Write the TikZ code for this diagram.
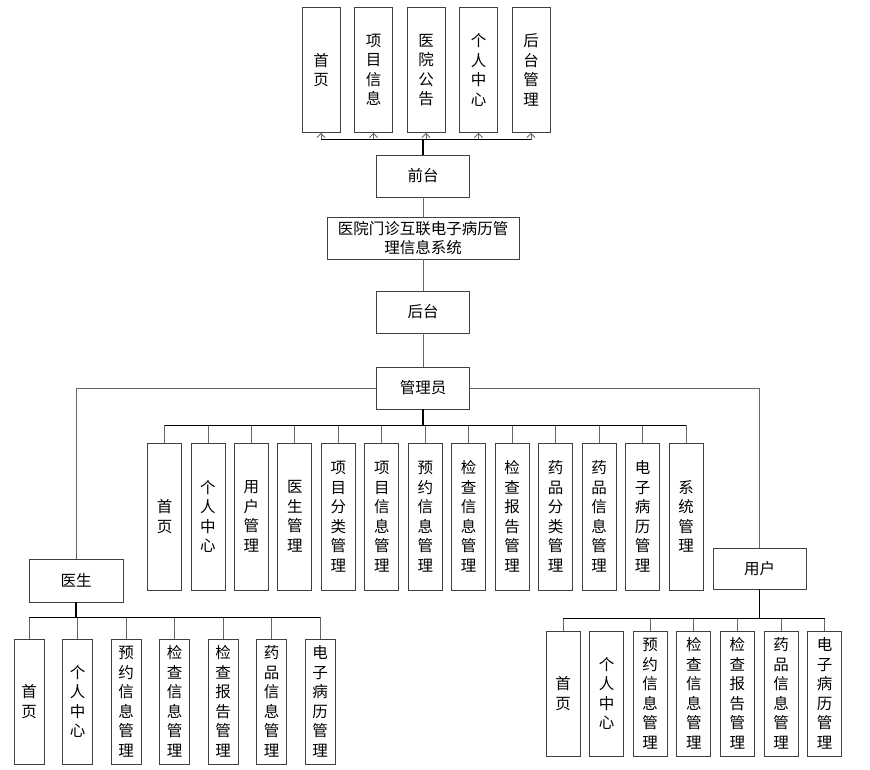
\documentclass[tikz,border=0pt]{standalone}
\usepackage{fontspec}
\setmainfont{Noto Sans CJK SC}
\usetikzlibrary{arrows.meta}

\begin{document}
\begin{tikzpicture}[x=1pt,y=-1pt,
			every node/.style={draw=black!75,line width=0.9pt,inner sep=1pt,align=center,
				font=\fontsize{15.5}{19.5}\selectfont},
			box/.style={minimum width=93pt,minimum height=42pt},
			col/.style={minimum width=34pt,minimum height=125pt},
			link/.style={draw=black!60,line width=0.8pt},
			bus/.style={draw=black,line width=1.1pt},
			trunk/.style={draw=black,line width=1.8pt},
			up/.style={link,-{Straight Barb[length=4pt,width=8pt]}}]
	\useasboundingbox (0,0) rectangle (870,770);
	% main column
	\node[box] (front) at (423,176) {前台};
	\node[box,minimum width=192pt] (sys) at (423,238) {医院门诊互联电子病历管\\理信息系统};
	\node[box] (back) at (423,312) {后台};
	\node[box] (admin) at (423,388) {管理员};
	\node[box,minimum width=94pt,minimum height=43pt] (doc) at (76,580.5) {医生};
	\node[box,minimum height=41pt] (user) at (759.5,568.5) {用户};
	% front
	\foreach \t [count=\i] in {{首\\页},{项\\目\\信\\息},{医\\院\\公\\告},{个\\人\\中\\心},{后\\台\\管\\理}}
		\node[col,minimum width=38pt] (f\i) at ({321+52.5*(\i-1)},70) {\t};
	% admin
	\foreach \t [count=\i] in {{首\\页},{个\\人\\中\\心},{用\\户\\管\\理},{医\\生\\管\\理},
			{项\\目\\分\\类\\管\\理},{项\\目\\信\\息\\管\\理},{预\\约\\信\\息\\管\\理},
			{检\\查\\信\\息\\管\\理},{检\\查\\报\\告\\管\\理},{药\\品\\分\\类\\管\\理},
			{药\\品\\信\\息\\管\\理},{电\\子\\病\\历\\管\\理},{系\\统\\管\\理}}
		\node[col,minimum height=147pt] (a\i) at ({164.5+43.46*(\i-1)},516.5) {\t};
	% doctor
	\foreach \t [count=\i] in {{首\\页},{个\\人\\中\\心},{预\\约\\信\\息\\管\\理},
			{检\\查\\信\\息\\管\\理},{检\\查\\报\\告\\管\\理},{药\\品\\信\\息\\管\\理},
			{电\\子\\病\\历\\管\\理}}
		\node[col,minimum width=30pt] (d\i) at ({29+48.5*(\i-1)},701.5) {\t};
	% user
	\foreach \t [count=\i] in {{首\\页},{个\\人\\中\\心},{预\\约\\信\\息\\管\\理},
			{检\\查\\信\\息\\管\\理},{检\\查\\报\\告\\管\\理},{药\\品\\信\\息\\管\\理},
			{电\\子\\病\\历\\管\\理}}
		\node[col] (u\i) at ({563+43.6*(\i-1)},693.5) {\t};

	% connectors
	\path (front.north) ++(0,-15) coordinate (fbus);
	\path (admin.south) ++(0,16) coordinate (abus);
	\path (doc.south) ++(0,15) coordinate (dbus);
	\path (user.south) ++(0,29) coordinate (ubus);
	\foreach \i in {1,...,5}
		\draw[up] (f\i.south |- fbus) -- (f\i.south);
	\foreach \i in {1,...,13}
		\draw[link] (a\i.north |- abus) -- (a\i.north);
	\foreach \i in {1,...,7}
		\draw[link] (d\i.north |- dbus) -- (d\i.north);
	\foreach \i in {1,3,4,5,6,7}
		\draw[link] (u\i.north |- ubus) -- (u\i.north);
	\draw[bus] (f1.south |- fbus) -- (f5.south |- fbus);
	\draw[bus] (a1.north |- abus) -- (a13.north |- abus);
	\draw[bus] (d1.north |- dbus) -- (d7.north |- dbus);
	\draw[bus] (u1.north |- ubus) -- (u7.north |- ubus);
	\draw[trunk] (front.north) -- (fbus);
	\draw[trunk] (admin.south) -- (abus);
	\draw[trunk] (doc.south) -- (dbus);
	\draw[trunk] (user.south) -- (ubus);
	\draw[link] (front.south) -- (sys.north);
	\draw[link] (sys.south) -- (back.north);
	\draw[link] (back.south) -- (admin.north);
	\draw[link] (admin.west) -| (doc.north);
	\draw[link] (admin.east) -| (user.north);
\end{tikzpicture}
\end{document}
